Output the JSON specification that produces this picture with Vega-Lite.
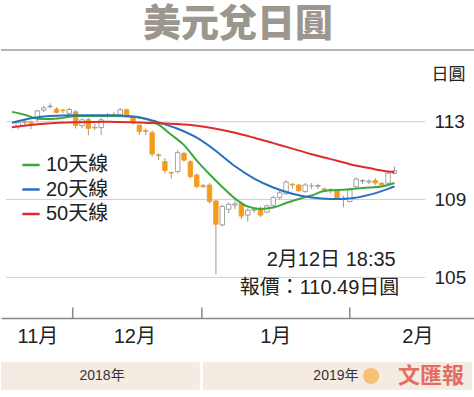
{
  "$schema": "https://vega.github.io/schema/vega-lite/v6.json",
  "padding": {"top": 6, "left": 0, "right": 0, "bottom": 0},
  "background": "white",
  "title": {"text": "美元兌日圓", "fontSize": 38, "font": "Noto Sans CJK TC", "fontWeight": 900, "color": "#9b968e", "anchor": "middle", "frame": "group", "offset": 5},
  "config": {"view": {"stroke": null}, "concat": {"spacing": 16}, "font": "Liberation Sans, Noto Sans CJK TC"},
  "datasets": {
    "candles": [
      {"i": -9, "o": 112.75, "h": 113.05, "l": 112.6, "c": 112.95},
      {"i": -8, "o": 112.95, "h": 113.1, "l": 112.85, "c": 113.02},
      {"i": -7, "o": 112.98, "h": 113.05, "l": 112.62, "c": 112.92},
      {"i": -6, "o": 113.22, "h": 113.6, "l": 113.0, "c": 113.56},
      {"i": -5, "o": 113.6, "h": 113.82, "l": 113.5, "c": 113.72},
      {"i": -4, "o": 113.78, "h": 113.95, "l": 113.68, "c": 113.8},
      {"i": -3, "o": 113.65, "h": 113.75, "l": 113.43, "c": 113.48},
      {"i": -2, "o": 113.6, "h": 113.68, "l": 113.43, "c": 113.57},
      {"i": -1, "o": 113.43, "h": 113.72, "l": 113.35, "c": 113.63},
      {"i": 0, "o": 113.51, "h": 113.6, "l": 112.65, "c": 112.8},
      {"i": 1, "o": 112.8, "h": 113.17, "l": 112.66, "c": 113.1},
      {"i": 2, "o": 113.12, "h": 113.2, "l": 112.3, "c": 112.66},
      {"i": 3, "o": 112.72, "h": 112.9, "l": 112.57, "c": 112.68},
      {"i": 4, "o": 112.7, "h": 113.2, "l": 112.32, "c": 113.1},
      {"i": 5, "o": 113.3, "h": 113.45, "l": 113.2, "c": 113.35},
      {"i": 6, "o": 113.38, "h": 113.5, "l": 113.25, "c": 113.36},
      {"i": 7, "o": 113.36, "h": 113.7, "l": 113.3, "c": 113.62},
      {"i": 8, "o": 113.62, "h": 113.68, "l": 113.3, "c": 113.36},
      {"i": 9, "o": 113.26, "h": 113.32, "l": 112.85, "c": 112.95},
      {"i": 10, "o": 112.83, "h": 112.86, "l": 112.32, "c": 112.49},
      {"i": 11, "o": 112.55, "h": 112.66, "l": 112.32, "c": 112.5},
      {"i": 12, "o": 112.44, "h": 112.57, "l": 111.21, "c": 111.34},
      {"i": 13, "o": 111.3, "h": 111.38, "l": 111.03, "c": 111.25},
      {"i": 14, "o": 110.95, "h": 111.12, "l": 110.35, "c": 110.49},
      {"i": 15, "o": 110.4, "h": 110.44, "l": 110.09, "c": 110.36},
      {"i": 16, "o": 110.44, "h": 111.55, "l": 110.35, "c": 111.41},
      {"i": 17, "o": 111.38, "h": 111.46, "l": 110.95, "c": 111.03},
      {"i": 18, "o": 110.95, "h": 111.03, "l": 110.09, "c": 110.18},
      {"i": 19, "o": 110.26, "h": 110.35, "l": 109.58, "c": 109.67},
      {"i": 20, "o": 109.72, "h": 109.8, "l": 109.6, "c": 109.66},
      {"i": 21, "o": 109.75, "h": 109.85, "l": 108.8, "c": 108.9},
      {"i": 22, "o": 108.93, "h": 108.98, "l": 105.15, "c": 107.73},
      {"i": 23, "o": 107.7, "h": 108.73, "l": 107.62, "c": 108.64},
      {"i": 24, "o": 108.5, "h": 108.85, "l": 108.3, "c": 108.75},
      {"i": 25, "o": 108.72, "h": 108.95, "l": 108.5, "c": 108.78},
      {"i": 26, "o": 108.8, "h": 108.9, "l": 108.0, "c": 108.15},
      {"i": 27, "o": 108.2, "h": 108.55, "l": 107.85, "c": 108.45},
      {"i": 28, "o": 108.45, "h": 108.6, "l": 108.3, "c": 108.5},
      {"i": 29, "o": 108.55, "h": 108.65, "l": 108.1, "c": 108.2},
      {"i": 30, "o": 108.35, "h": 108.75, "l": 108.3, "c": 108.68},
      {"i": 31, "o": 108.7, "h": 109.2, "l": 108.65, "c": 109.1},
      {"i": 32, "o": 109.1, "h": 109.45, "l": 109.0, "c": 109.35},
      {"i": 33, "o": 109.3, "h": 110.0, "l": 109.25, "c": 109.9},
      {"i": 34, "o": 109.8, "h": 109.82, "l": 109.55, "c": 109.75},
      {"i": 35, "o": 109.75, "h": 109.8, "l": 109.4, "c": 109.45},
      {"i": 36, "o": 109.41, "h": 109.85, "l": 109.35, "c": 109.75},
      {"i": 37, "o": 109.72, "h": 109.85, "l": 109.55, "c": 109.7},
      {"i": 38, "o": 109.68, "h": 109.82, "l": 109.55, "c": 109.72},
      {"i": 39, "o": 109.55, "h": 109.62, "l": 109.4, "c": 109.5},
      {"i": 40, "o": 109.52, "h": 109.58, "l": 109.3, "c": 109.5},
      {"i": 41, "o": 109.5, "h": 109.55, "l": 109.0, "c": 109.07},
      {"i": 42, "o": 109.05, "h": 109.2, "l": 108.6, "c": 109.0},
      {"i": 43, "o": 108.9, "h": 109.6, "l": 108.85, "c": 109.5},
      {"i": 44, "o": 109.66, "h": 110.15, "l": 109.6, "c": 110.05},
      {"i": 45, "o": 109.95, "h": 110.05, "l": 109.8, "c": 109.98},
      {"i": 46, "o": 109.9, "h": 110.05, "l": 109.8, "c": 109.95},
      {"i": 47, "o": 109.98, "h": 110.1, "l": 109.75, "c": 109.85},
      {"i": 48, "o": 109.84, "h": 109.9, "l": 109.7, "c": 109.75},
      {"i": 49, "o": 109.84, "h": 110.4, "l": 109.8, "c": 110.35},
      {"i": 50, "o": 110.35, "h": 110.7, "l": 110.3, "c": 110.49}
    ],
    "ma": [
      {"s": "10天線", "i": -10, "p": 113.51}, {"s": "10天線", "i": -8, "p": 113.36}, {"s": "10天線", "i": -6, "p": 113.16},
      {"s": "10天線", "i": -4, "p": 113.14}, {"s": "10天線", "i": -2, "p": 113.2}, {"s": "10天線", "i": 0, "p": 113.29},
      {"s": "10天線", "i": 3, "p": 113.3}, {"s": "10天線", "i": 6, "p": 113.3}, {"s": "10天線", "i": 9, "p": 113.26},
      {"s": "10天線", "i": 11, "p": 113.15}, {"s": "10天線", "i": 13, "p": 112.85}, {"s": "10天線", "i": 15, "p": 112.33},
      {"s": "10天線", "i": 17, "p": 111.8}, {"s": "10天線", "i": 19, "p": 111.0}, {"s": "10天線", "i": 21, "p": 110.3},
      {"s": "10天線", "i": 23, "p": 109.65}, {"s": "10天線", "i": 25, "p": 109.05}, {"s": "10天線", "i": 27, "p": 108.64},
      {"s": "10天線", "i": 29, "p": 108.52}, {"s": "10天線", "i": 31, "p": 108.59}, {"s": "10天線", "i": 33, "p": 108.82},
      {"s": "10天線", "i": 35, "p": 109.03}, {"s": "10天線", "i": 37, "p": 109.21}, {"s": "10天線", "i": 39, "p": 109.44},
      {"s": "10天線", "i": 41, "p": 109.49}, {"s": "10天線", "i": 43, "p": 109.53}, {"s": "10天線", "i": 46, "p": 109.62},
      {"s": "10天線", "i": 48, "p": 109.67}, {"s": "10天線", "i": 50, "p": 109.85},
      {"s": "20天線", "i": -10, "p": 112.95}, {"s": "20天線", "i": -7, "p": 113.18}, {"s": "20天線", "i": -4, "p": 113.3},
      {"s": "20天線", "i": 0, "p": 113.33}, {"s": "20天線", "i": 5, "p": 113.33}, {"s": "20天線", "i": 9, "p": 113.27},
      {"s": "20天線", "i": 11, "p": 113.15}, {"s": "20天線", "i": 13, "p": 112.97}, {"s": "20天線", "i": 16, "p": 112.64},
      {"s": "20天線", "i": 19, "p": 112.18}, {"s": "20天線", "i": 22, "p": 111.5}, {"s": "20天線", "i": 25, "p": 110.71},
      {"s": "20天線", "i": 28, "p": 110.08}, {"s": "20天線", "i": 31, "p": 109.62}, {"s": "20天線", "i": 34, "p": 109.3},
      {"s": "20天線", "i": 37, "p": 109.1}, {"s": "20天線", "i": 40, "p": 109.03}, {"s": "20天線", "i": 43, "p": 109.06},
      {"s": "20天線", "i": 46, "p": 109.24}, {"s": "20天線", "i": 49, "p": 109.55}, {"s": "20天線", "i": 50, "p": 109.67},
      {"s": "50天線", "i": -10, "p": 112.72}, {"s": "50天線", "i": -5, "p": 112.9}, {"s": "50天線", "i": 0, "p": 112.98},
      {"s": "50天線", "i": 5, "p": 113.0}, {"s": "50天線", "i": 10, "p": 112.96}, {"s": "50天線", "i": 13, "p": 112.93},
      {"s": "50天線", "i": 16, "p": 112.88}, {"s": "50天線", "i": 19, "p": 112.79}, {"s": "50天線", "i": 22, "p": 112.64},
      {"s": "50天線", "i": 25, "p": 112.44}, {"s": "50天線", "i": 28, "p": 112.18}, {"s": "50天線", "i": 31, "p": 111.9},
      {"s": "50天線", "i": 34, "p": 111.62}, {"s": "50天線", "i": 37, "p": 111.33}, {"s": "50天線", "i": 40, "p": 111.08},
      {"s": "50天線", "i": 43, "p": 110.82}, {"s": "50天線", "i": 46, "p": 110.62}, {"s": "50天線", "i": 49, "p": 110.44},
      {"s": "50天線", "i": 50, "p": 110.4}
    ],
    "months": [{"m": "12月", "i": -0.46}, {"m": "1月", "i": 19.8}, {"m": "2月", "i": 43.0}],
    "years": [
      {"year": "2018年", "start": -10.92, "end": 19.6, "mid": 4.6},
      {"year": "2019年", "start": 20.1, "end": 61.4, "mid": 40.5}
    ]
  },
  "vconcat": [
    {
      "width": 474,
      "height": 268,
      "layer": [
        {
          "data": {"values": [{"p": 105}, {"p": 109}, {"p": 113}]},
          "mark": {"type": "rule", "color": "#cfcfcf", "strokeWidth": 1},
          "encoding": {
            "x": {"datum": -10.92, "type": "quantitative", "scale": {"domain": [-10.92, 61.85], "nice": false, "zero": false}},
            "x2": {"datum": 54.8},
            "y": {"field": "p", "type": "quantitative", "scale": {"domain": [102.91, 116.69], "nice": false, "zero": false},
              "axis": {"orient": "right", "offset": -46, "values": [105, 109, 113], "ticks": false, "domain": false, "grid": false,
                "labelPadding": 5, "labelAlign": "left", "labelFontSize": 19, "labelColor": "#222", "labelFont": "Liberation Sans, Noto Sans CJK TC",
                "title": "日圓", "titleAngle": 0, "titleX": 19, "titleY": 24, "titleAlign": "center", "titleBaseline": "middle",
                "titleFontSize": 17, "titleFontWeight": "normal", "titleColor": "#222", "titleFont": "Noto Sans CJK TC"}}
          }
        },
        {
          "data": {"values": [{}]},
          "mark": {"type": "rule", "color": "#9a9a9a", "strokeWidth": 1.5},
          "encoding": {"y": {"datum": 116.69, "type": "quantitative"}}
        },
        {
          "data": {"name": "months"},
          "mark": {"type": "rule", "color": "#888", "strokeWidth": 1.5},
          "encoding": {
            "x": {"field": "i", "type": "quantitative"},
            "y": {"datum": 102.91, "type": "quantitative"},
            "y2": {"datum": 103.45}
          }
        },
        {
          "data": {"name": "candles"},
          "mark": {"type": "rule", "color": "#9a9a9a", "strokeWidth": 1},
          "encoding": {
            "x": {"field": "i", "type": "quantitative",
              "axis": {"values": [-6.0, 9.2, 31.3, 53.6], "labelExpr": "datum.value < 0 ? '11月' : datum.value < 15 ? '12月' : datum.value < 40 ? '1月' : '2月'",
                "ticks": false, "grid": false, "domain": true, "domainColor": "#888", "domainWidth": 1.5, "title": null,
                "labelFontSize": 20, "labelColor": "#222", "labelPadding": 8, "labelFlush": false, "labelOverlap": false,
                "labelFont": "Liberation Sans, Noto Sans CJK TC"}},
            "y": {"field": "l", "type": "quantitative"},
            "y2": {"field": "h"}
          }
        },
        {
          "data": {"name": "candles"},
          "mark": {"type": "bar", "size": 4.5, "strokeWidth": 0.8},
          "encoding": {
            "x": {"field": "i", "type": "quantitative"},
            "y": {"field": "o", "type": "quantitative"},
            "y2": {"field": "c"},
            "fill": {"condition": {"test": "datum.c >= datum.o", "value": "#ffffff"}, "value": "#f29b1d"},
            "stroke": {"condition": {"test": "datum.c >= datum.o", "value": "#8c8c8c"}, "value": "#f29b1d"}
          }
        },
        {
          "data": {"name": "ma"},
          "mark": {"type": "line", "strokeWidth": 2, "interpolate": "monotone"},
          "encoding": {
            "x": {"field": "i", "type": "quantitative"},
            "y": {"field": "p", "type": "quantitative"},
            "color": {"field": "s", "type": "nominal",
              "scale": {"domain": ["10天線", "20天線", "50天線"], "range": ["#3aa83a", "#2a70c0", "#e22a2a"]},
              "legend": {"orient": "none", "legendX": 20, "legendY": 105, "title": null, "symbolType": "stroke", "symbolSize": 300,
                "symbolStrokeWidth": 2.5, "labelFontSize": 20, "labelColor": "#222", "labelOffset": 5, "rowPadding": 4.5, "padding": 0,
                "labelFont": "Liberation Sans, Noto Sans CJK TC"}}
          }
        },
        {
          "data": {"values": [{}]},
          "mark": {"type": "text", "text": "2月12日 18:35", "align": "right", "baseline": "middle", "fontSize": 20, "color": "#222", "font": "Liberation Sans, Noto Sans CJK TC"},
          "encoding": {
            "x": {"datum": 50.2, "type": "quantitative"},
            "y": {"datum": 105.88, "type": "quantitative"}
          }
        },
        {
          "data": {"values": [{}]},
          "mark": {"type": "text", "text": "報價：110.49日圓", "align": "right", "baseline": "middle", "fontSize": 20, "color": "#222", "font": "Liberation Sans, Noto Sans CJK TC"},
          "encoding": {
            "x": {"datum": 50.77, "type": "quantitative"},
            "y": {"datum": 104.47, "type": "quantitative"}
          }
        }
      ]
    },
    {
      "width": 474,
      "height": 28,
      "layer": [
        {
          "data": {"name": "years"},
          "mark": {"type": "rect", "color": "#f4ebe3"},
          "encoding": {
            "x": {"field": "start", "type": "quantitative", "scale": {"domain": [-10.92, 61.85], "nice": false, "zero": false}, "axis": null},
            "x2": {"field": "end"}
          }
        },
        {
          "data": {"name": "years"},
          "mark": {"type": "text", "fontSize": 14, "color": "#333", "baseline": "middle", "font": "Liberation Sans, Noto Sans CJK TC"},
          "encoding": {
            "x": {"field": "mid", "type": "quantitative", "axis": null},
            "text": {"field": "year"}
          }
        },
        {
          "data": {"values": [{}]},
          "mark": {"type": "point", "filled": true, "size": 260, "color": "#f7b34f", "opacity": 0.75},
          "encoding": {"x": {"datum": 45.9, "type": "quantitative", "axis": null}}
        },
        {
          "data": {"values": [{}]},
          "mark": {"type": "text", "text": "文匯報", "fontSize": 22, "fontWeight": "bold", "color": "#e2574c", "opacity": 0.85, "baseline": "middle", "font": "Noto Sans CJK TC"},
          "encoding": {"x": {"datum": 55.1, "type": "quantitative", "axis": null}}
        }
      ]
    }
  ]
}
